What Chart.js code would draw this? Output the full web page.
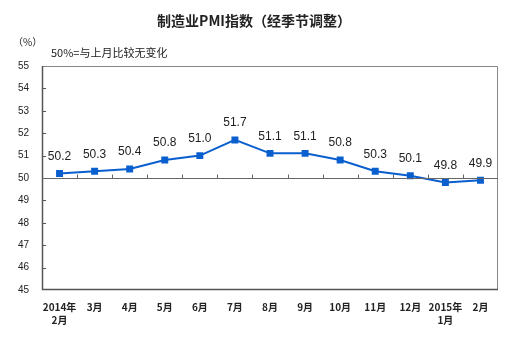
<!DOCTYPE html>
<html>
<head>
<meta charset="utf-8">
<script src="https://cdn.jsdelivr.net/npm/chart.js@4/dist/chart.umd.min.js"></script>
<style>
  html,body{margin:0;padding:0;background:#fff;}
  #wrap{position:relative;width:516px;height:338px;}
</style>
</head>
<body>
<div id="wrap"><canvas id="myChart" width="516" height="338"></canvas></div>
<script>
'use strict';
// months shown on the x axis
const months = [['2014年','2月'],'3月','4月','5月','6月','7月','8月','9月','10月','11月','12月',['2015年','1月'],'2月'];
// manufacturing PMI, seasonally adjusted
const pmiValues = [50.2,50.3,50.4,50.8,51.0,51.7,51.1,51.1,50.8,50.3,50.1,49.8,49.9];
const yMin = 45;
const yMax = 55;
const baseLine = 50;

const titleText = '制造业PMI指数（经季节调整）';
const unitText = '（%）';
const noteText = '50%=与上月比较无变化';
const lineColor = '#0a5fcf';

const framePlugin = {
  id: 'frame',
  afterDraw(chart){
    const ctx = chart.ctx;
    const a = chart.chartArea;
    const xs = chart.scales.x;
    const ys = chart.scales.y;
    ctx.save();

    // title and notes
    ctx.fillStyle = '#222';
    ctx.textBaseline = 'middle';
    ctx.textAlign = 'center';
    ctx.font = 'bold 14px "Noto Sans CJK SC"';
    ctx.fillText(titleText, 254, 21);
    ctx.textAlign = 'left';
    ctx.font = '10px "Noto Sans CJK SC"';
    ctx.fillText(unitText, 13, 42);
    ctx.font = '11px "Noto Sans CJK SC"';
    ctx.fillText(noteText, 51, 53);

    // box
    ctx.lineWidth = 1;
    ctx.strokeStyle = '#888';
    ctx.beginPath();
    ctx.moveTo(a.left, a.top + 0.5);
    ctx.lineTo(a.right - 0.5, a.top + 0.5);
    ctx.lineTo(a.right - 0.5, a.bottom);
    ctx.stroke();
    ctx.strokeStyle = '#555';
    ctx.lineWidth = 1.5;
    ctx.beginPath();
    ctx.moveTo(a.left + 0.5, a.top);
    ctx.lineTo(a.left + 0.5, a.bottom - 0.5);
    ctx.lineTo(a.right, a.bottom - 0.5);
    ctx.stroke();

    // left axis ticks
    ctx.lineWidth = 1;
    for(let v = yMin + 1; v < yMax; v++){
      const py = Math.round(ys.getPixelForValue(v)) + 0.5;
      ctx.beginPath();
      ctx.moveTo(a.left, py);
      ctx.lineTo(a.left + 4, py);
      ctx.stroke();
    }

    // 50 line with category ticks
    const by = Math.round(ys.getPixelForValue(baseLine)) + 0.5;
    ctx.strokeStyle = '#666';
    ctx.beginPath();
    ctx.moveTo(a.left, by);
    ctx.lineTo(a.right, by);
    ctx.stroke();
    for(let i = 1; i < months.length; i++){
      const px = Math.round((xs.getPixelForValue(i - 1) + xs.getPixelForValue(i)) / 2) + 0.5;
      ctx.beginPath();
      ctx.moveTo(px, by);
      ctx.lineTo(px, by - 4);
      ctx.stroke();
    }
    ctx.restore();
  },
  afterDatasetsDraw(chart){
    const ctx = chart.ctx;
    const meta = chart.getDatasetMeta(0);
    ctx.save();
    ctx.fillStyle = '#222';
    ctx.font = '12px "Liberation Sans"';
    ctx.textAlign = 'center';
    ctx.textBaseline = 'middle';
    meta.data.forEach((pt, i) => {
      ctx.fillText(pmiValues[i].toFixed(1), pt.x, pt.y - 17);
    });
    ctx.restore();
  }
};

const ctx = document.getElementById('myChart').getContext('2d');
new Chart(ctx, {
  type: 'line',
  data: {
    labels: months,
    datasets: [{
      data: pmiValues,
      borderColor: lineColor,
      backgroundColor: lineColor,
      borderWidth: 2,
      pointStyle: 'rect',
      pointRadius: 3.5,
      pointHoverRadius: 3.5,
      tension: 0
    }]
  },
  options: {
    responsive: false,
    animation: false,
    events: [],
    layout: { padding: { left: 0, top: 66, right: 18, bottom: 0 } },
    plugins: { legend: { display: false }, tooltip: { enabled: false } },
    scales: {
      x: {
        offset: true,
        grid: { display: false, drawTicks: false },
        border: { display: false },
        ticks: {
          color: '#222',
          font: { family: '"Noto Sans CJK SC"', size: 10, weight: 'bold', lineHeight: 1.3 },
          padding: 11,
          maxRotation: 0,
          autoSkip: false
        },
        afterFit(scale){ scale.height = 48; }
      },
      y: {
        min: yMin,
        max: yMax,
        grid: { display: false, drawTicks: false },
        border: { display: false },
        ticks: {
          stepSize: 1,
          color: '#222',
          font: { family: '"Liberation Sans"', size: 10 },
          padding: 13
        },
        afterFit(scale){ scale.width = 42; }
      }
    }
  },
  plugins: [framePlugin]
});
</script>
</body>
</html>
